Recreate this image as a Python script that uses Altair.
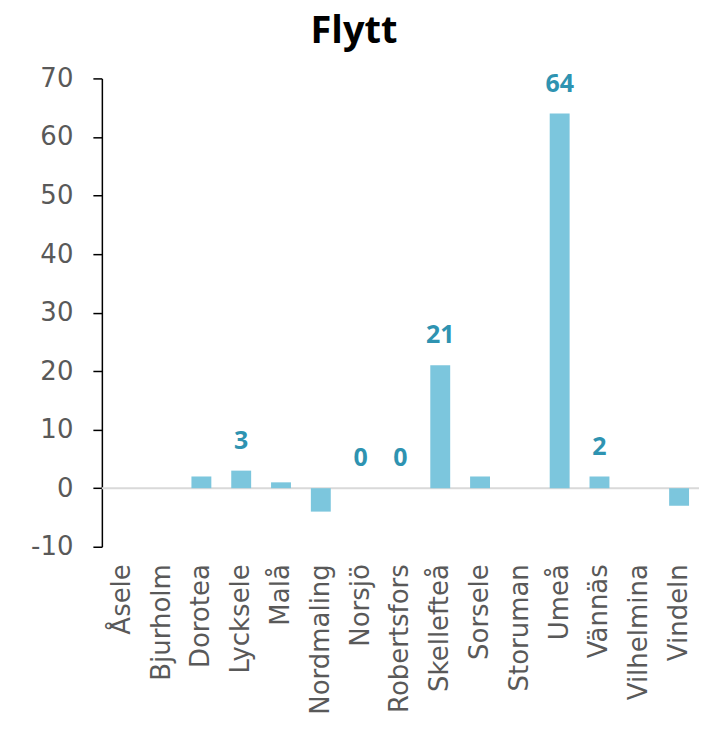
import altair as alt
import pandas as pd

kommuner = ["Åsele", "Bjurholm", "Dorotea", "Lycksele", "Malå", "Nordmaling", "Norsjö",
            "Robertsfors", "Skellefteå", "Sorsele", "Storuman", "Umeå", "Vännäs",
            "Vilhelmina", "Vindeln"]
flytt = [0, 0, 2, 3, 1, -4, 0, 0, 21, 2, 0, 64, 2, 0, -3]
etiketter = ["", "", "", "3", "", "", "0", "0", "21", "", "", "64", "2", "", ""]
y_ticks = [-10, 0, 10, 20, 30, 40, 50, 60, 70]

df = pd.DataFrame({"kommun": kommuner, "flytt": flytt, "etikett": etiketter})
df_lab = df[df["etikett"] != ""]

AXFONT = "DejaVu Sans"
LABFONT = "Open Sans"
x_enc = alt.X("kommun:N", sort=kommuner,
              scale=alt.Scale(paddingInner=0.5, paddingOuter=0.25),
              axis=alt.Axis(title=None, labelAngle=-90, domain=False, ticks=False,
                            labelPadding=17, labelFontSize=26, labelColor="#595959",
                            labelFont=AXFONT, labelAlign="right", labelBaseline="middle"))
y_scale = alt.Scale(domain=[-10, 70], nice=False, zero=False)

zero = alt.Chart(pd.DataFrame({"v": [0]})).mark_rule(color="#D9D9D9", strokeWidth=2).encode(
    y=alt.Y("v:Q", scale=y_scale)
)

bars = alt.Chart(df).mark_bar(color="#7CC6DD").encode(
    x=x_enc,
    y=alt.Y("flytt:Q", scale=y_scale,
            axis=alt.Axis(title=None, values=y_ticks, grid=False, domainColor="#000000",
                          tickColor="#000000", tickSize=9, domainWidth=1.5, tickWidth=1.5,
                          labelPadding=20, labelFontSize=26, labelColor="#595959",
                          labelFont=AXFONT, minExtent=94,
                          labelExpr="datum.value + ''")),
)

labels = alt.Chart(df_lab).mark_text(font=LABFONT, fontWeight="bold", fontSize=25,
                                     color="#2E93B1", dy=-30, baseline="middle").encode(
    x=alt.X("kommun:N", sort=kommuner),
    y=alt.Y("flytt:Q", scale=y_scale),
    text="etikett:N",
)

chart = alt.layer(zero, bars, labels).properties(
    width=598, height=469,
    title=alt.TitleParams("Flytt", fontSize=38, fontWeight="bold", font=LABFONT,
                          color="#000000", frame="bounds", anchor="middle", offset=14),
    padding={"left": 0, "top": 5, "right": 0, "bottom": 0},
).configure_view(stroke=None)

chart.save("out.html", embed_options={"renderer": "svg", "actions": False})
